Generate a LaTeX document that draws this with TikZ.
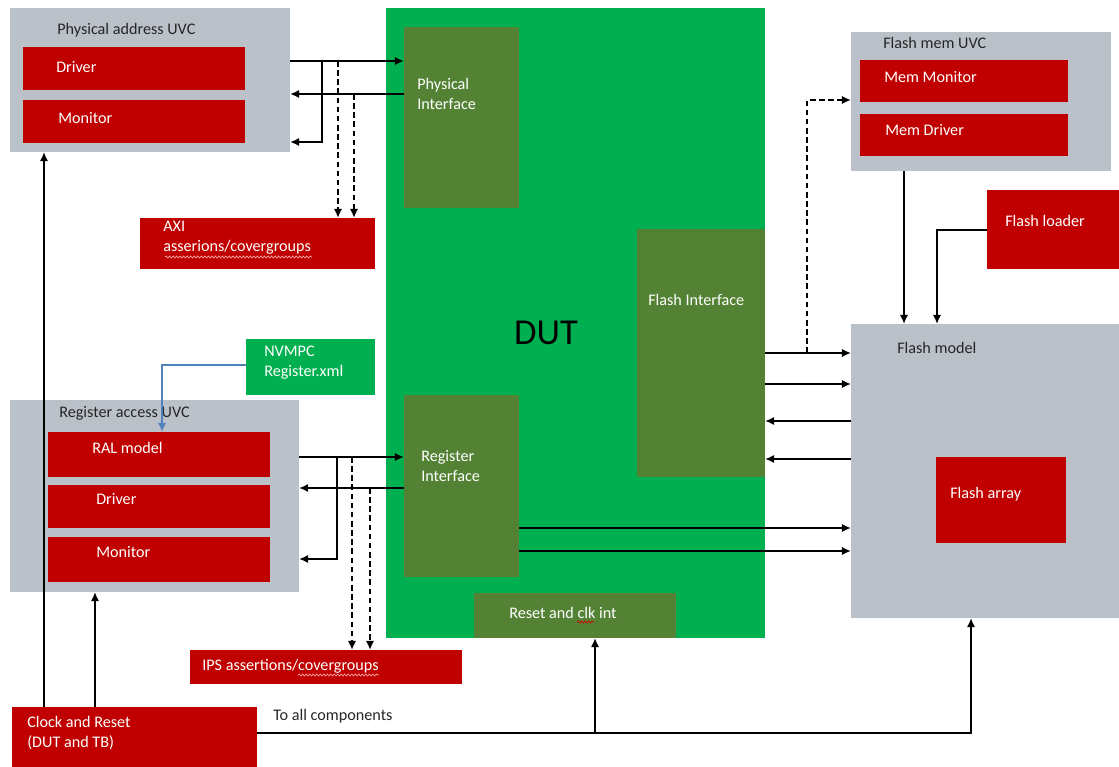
\documentclass[tikz,border=0pt]{standalone}
\usepackage{fontspec}
\setmainfont{Carlito}
\usetikzlibrary{arrows.meta,decorations.pathmorphing}
\definecolor{uvcgray}{RGB}{186,193,201}
\definecolor{blkred}{RGB}{192,0,0}
\definecolor{dutgreen}{RGB}{0,176,80}
\definecolor{ifolive}{RGB}{84,130,53}
\definecolor{xmlblue}{RGB}{79,129,189}
\begin{document}
\begin{tikzpicture}[x=0.025cm,y=-0.025cm,
  every node/.style={font=\fontsize{11.5}{14.2}\selectfont},
  box/.style={anchor=north west,inner sep=0pt,outer sep=0pt},
  uvc/.style={box,fill=uvcgray},
  blk/.style={box,fill=blkred},
  ifc/.style={box,fill=ifolive},
  wtxt/.style={text=white,anchor=west,inner sep=0pt,align=left},
  dtxt/.style={text=black!85,anchor=west,inner sep=0pt},
  ln/.style={line width=1.8pt},
  arr/.style={ln,-{Latex[length=6.5pt,width=6pt]}},
  darr/.style={arr,dash pattern=on 4pt off 2.5pt},
  spell/.style={line width=0.5pt,decorate,decoration={snake,amplitude=0.7pt,segment length=2.5pt}}]
  \useasboundingbox (0,0) rectangle (1119,767);

  \node[box,fill=dutgreen,minimum width=9.475cm,minimum height=15.75cm] (dut) at (386,8) {};
  \node[font=\fontsize{26}{30}\selectfont] (dutt) at (546,333) {DUT};
  \node[ifc,minimum width=2.875cm,minimum height=4.525cm] (phyif) at (404,27) {};
  \node[wtxt] (phyift) at (417,94) {Physical\\Interface};
  \node[ifc,minimum width=2.875cm,minimum height=4.55cm] (regif) at (404,395) {};
  \node[wtxt] (regift) at (421,466) {Register\\Interface};
  \node[ifc,minimum width=3.2cm,minimum height=6.2cm] (flif) at (637,229) {};
  \node[wtxt] (flift) at (648,300) {Flash Interface};
  \node[ifc,minimum width=5.05cm,minimum height=1.125cm] (rstif) at (474,593) {};
  \node[wtxt] (rstift) at (509,613) {Reset and clk int};

  \node[uvc,minimum width=7cm,minimum height=3.6cm] (pau) at (10,8) {};
  \node[dtxt] (paut) at (57,30) {Physical address UVC};
  \node[blk,minimum width=5.55cm,minimum height=1.075cm] (pdrv) at (23,47) {};
  \node[wtxt] (pdrvt) at (56,67) {Driver};
  \node[blk,minimum width=5.55cm,minimum height=1.075cm] (pmon) at (23,100) {};
  \node[wtxt] (pmont) at (58,118) {Monitor};
  \node[blk,minimum width=5.875cm,minimum height=1.275cm] (axi) at (140,218) {};
  \node[wtxt] (axit) at (163,238) {AXI\\asserions/covergroups};

  \node[box,fill=dutgreen,minimum width=3.225cm,minimum height=1.4cm] (nvm) at (246,339) {};
  \node[wtxt] (nvmt) at (264,363) {NVMPC\\Register.xml};
  \node[uvc,minimum width=7.225cm,minimum height=4.8cm] (rau) at (10,400) {};
  \node[dtxt] (raut) at (59,413) {Register access UVC};
  \node[blk,minimum width=5.55cm,minimum height=1.125cm] (ral) at (48,432) {};
  \node[wtxt] (ralt) at (92,448) {RAL model};
  \node[blk,minimum width=5.55cm,minimum height=1.075cm] (rdrv) at (48,485) {};
  \node[wtxt] (rdrvt) at (96,499) {Driver};
  \node[blk,minimum width=5.55cm,minimum height=1.125cm] (rmon) at (48,537) {};
  \node[wtxt] (rmont) at (96,552) {Monitor};
  \node[blk,minimum width=6.8cm,minimum height=0.85cm] (ips) at (190,650) {};
  \node[wtxt] (ipst) at (202,666) {IPS assertions/covergroups};
  \node[blk,minimum width=6.125cm,minimum height=1.5cm] (clk) at (12,707) {};
  \node[wtxt] (clkt) at (27,733) {Clock and Reset\\(DUT and TB)};
  \node[dtxt] (allt) at (273,716) {To all components};

  \node[uvc,minimum width=6.5cm,minimum height=3.475cm] (fmu) at (851,32) {};
  \node[dtxt] (fmut) at (883,43) {Flash mem UVC};
  \node[blk,minimum width=5.2cm,minimum height=1.05cm] (mmon) at (860,60) {};
  \node[wtxt] (mmont) at (884,77) {Mem Monitor};
  \node[blk,minimum width=5.2cm,minimum height=1.05cm] (mdrv) at (860,114) {};
  \node[wtxt] (mdrvt) at (885,130) {Mem Driver};
  \node[blk,minimum width=3.3cm,minimum height=1.975cm] (fld) at (987,190) {};
  \node[wtxt] (fldt) at (1005,221) {Flash loader};
  \node[uvc,minimum width=6.7cm,minimum height=7.35cm] (fmod) at (851,324) {};
  \node[dtxt] (fmodt) at (897,348) {Flash model};
  \node[blk,minimum width=3.25cm,minimum height=2.15cm] (farr) at (936,457) {};
  \node[wtxt] (farrt) at (950,494) {Flash array};

  \draw[spell,red!35!white] (165,257) -- (312,257);
  \draw[spell,red!35!white] (298,675) -- (379,675);
  \draw[spell,red!85!black] (577,622) -- (594,622);

  \draw[arr] (pau.east |- 0,61) -- (phyif.west |- 0,61);
  \draw[arr] (phyif.west |- 0,94) -- (pau.east |- 0,94);
  \draw[arr] (322,61) -- (322,142) -- (pau.east |- 0,142);
  \draw[darr] (338,61) -- (axi.north -| 338,0);
  \draw[darr] (354,94) -- (axi.north -| 354,0);

  \draw[arr,xmlblue] (nvm.west |- 0,365) -- (162,365) -- (ral.north -| 162,0);
  \draw[arr] (rau.east |- 0,457) -- (regif.west |- 0,457);
  \draw[arr] (regif.west |- 0,488) -- (rau.east |- 0,488);
  \draw[arr] (337,457) -- (337,559) -- (rau.east |- 0,559);
  \draw[darr] (352,457) -- (ips.north -| 352,0);
  \draw[darr] (370,488) -- (ips.north -| 370,0);

  \draw[arr] (clk.north -| 44,0) -- (pau.south -| 44,0);
  \draw[arr] (clk.north -| 95,0) -- (rau.south -| 95,0);
  \draw[arr] (clk.east |- 0,733) -- (971,733) -- (fmod.south -| 971,0);
  \draw[arr] (595,733) -- (rstif.south -| 595,0);

  \draw[arr] (flif.east |- 0,353) -- (fmod.west |- 0,353);
  \draw[darr] (807,353) -- (807,100) -- (fmu.west |- 0,100);
  \draw[arr] (flif.east |- 0,384) -- (fmod.west |- 0,384);
  \draw[arr] (fmod.west |- 0,421) -- (flif.east |- 0,421);
  \draw[arr] (fmod.west |- 0,459) -- (flif.east |- 0,459);
  \draw[arr] (regif.east |- 0,528) -- (fmod.west |- 0,528);
  \draw[arr] (regif.east |- 0,551) -- (fmod.west |- 0,551);
  \draw[arr] (fmu.south -| 904,0) -- (fmod.north -| 904,0);
  \draw[arr] (fld.west |- 0,230) -- (937,230) -- (fmod.north -| 937,0);
\end{tikzpicture}
\end{document}
